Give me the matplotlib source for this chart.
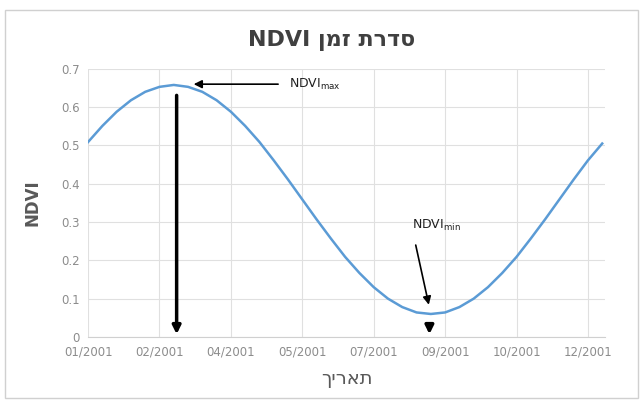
import datetime as dt
import matplotlib
matplotlib.use('Agg')
import matplotlib.pyplot as plt
import matplotlib.dates as mdates
from matplotlib.patches import Rectangle

# dates (every 10 days) and NDVI
dates = ['2001-01-01', '2001-01-11', '2001-01-21', '2001-01-31', '2001-02-10',
         '2001-02-20', '2001-03-02', '2001-03-12', '2001-03-22', '2001-04-01',
         '2001-04-11', '2001-04-21', '2001-05-01', '2001-05-11', '2001-05-21',
         '2001-05-31', '2001-06-10', '2001-06-20', '2001-06-30', '2001-07-10',
         '2001-07-20', '2001-07-30', '2001-08-09', '2001-08-19', '2001-08-29',
         '2001-09-08', '2001-09-18', '2001-09-28', '2001-10-08', '2001-10-18',
         '2001-10-28', '2001-11-07', '2001-11-17', '2001-11-27', '2001-12-07',
         '2001-12-17', '2001-12-27']
ndvi = [0.509, 0.551, 0.588, 0.618, 0.640, 0.653, 0.658, 0.653, 0.640, 0.618,
        0.588, 0.551, 0.509, 0.461, 0.411, 0.359, 0.307, 0.257, 0.209, 0.167,
        0.130, 0.100, 0.078, 0.064, 0.060, 0.064, 0.078, 0.100, 0.130, 0.167,
        0.209, 0.257, 0.307, 0.359, 0.411, 0.461, 0.505]

max_date = '2001-03-02'
min_date = '2001-08-29'
title_heb = 'סדרת זמן'
xlabel_heb = 'תאריך'

x = [dt.datetime.strptime(d, '%Y-%m-%d') for d in dates]
xmax = dt.datetime.strptime(max_date, '%Y-%m-%d')
xmin = dt.datetime.strptime(min_date, '%Y-%m-%d')
start = x[0]

fig = plt.figure(figsize=(6.43, 4.05), dpi=100)
fig.patches.append(Rectangle((0.008, 0.017), 0.985, 0.958, transform=fig.transFigure,
                             fill=False, edgecolor='#d0d0d0', linewidth=1))
ax = fig.add_axes([0.137, 0.168, 0.804, 0.662])

ax.plot(x, ndvi, color='#5b9bd5', linewidth=1.8, zorder=3)

ax.set_ylim(0, 0.7)
ax.set_yticks([i / 10 for i in range(8)])
ax.set_yticklabels(['0'] + ['%.1f' % (i / 10) for i in range(1, 8)])
ax.set_xlim(start, start + dt.timedelta(days=362))
ax.set_xticks([start + dt.timedelta(days=50 * i) for i in range(8)])
ax.xaxis.set_major_formatter(mdates.DateFormatter('%m/%Y'))

ax.grid(True, color='#e0e0e0', linewidth=0.8)
ax.set_axisbelow(True)
for s in ['top', 'right', 'left']:
    ax.spines[s].set_visible(False)
ax.spines['bottom'].set_color('#d0d0d0')
ax.tick_params(length=0, colors='#8c8c8c', labelsize=8.5, pad=6)

ax.set_ylabel('NDVI', fontsize=12, fontweight='bold', color='#595959', labelpad=14)
ax.set_xlabel(xlabel_heb[::-1], fontsize=14, color='#595959', labelpad=8)
fig.text(0.515, 0.9, 'NDVI ' + title_heb[::-1], ha='center', va='center',
         fontsize=16, fontweight='bold', color='#404040')

# NDVI max annotation
ax.annotate('', xy=(xmax + dt.timedelta(days=12), 0.66), xytext=(start + dt.timedelta(days=135), 0.66),
            arrowprops=dict(arrowstyle='-|>', color='black', lw=1.2, mutation_scale=12))
ax.text(start + dt.timedelta(days=141), 0.66, r'NDVI$_{\mathrm{max}}$', fontsize=9,
        va='center', ha='left', color='#202020')
ax.annotate('', xy=(xmax + dt.timedelta(days=2), 0.0), xytext=(xmax + dt.timedelta(days=2), 0.638),
            arrowprops=dict(arrowstyle='-|>', color='black', lw=2.5, mutation_scale=12))

# NDVI min annotation
ax.text(start + dt.timedelta(days=227), 0.29, r'NDVI$_{\mathrm{min}}$', fontsize=9,
        va='center', ha='left', color='#202020')
ax.annotate('', xy=(xmin - dt.timedelta(days=1), 0.077), xytext=(xmin - dt.timedelta(days=11), 0.247),
            arrowprops=dict(arrowstyle='-|>', color='black', lw=1.2, mutation_scale=12))
ax.annotate('', xy=(xmin - dt.timedelta(days=1), 0.0), xytext=(xmin - dt.timedelta(days=1), 0.04),
            arrowprops=dict(arrowstyle='-|>', color='black', lw=2.5, mutation_scale=12))

fig.savefig('out.png', dpi=100)
